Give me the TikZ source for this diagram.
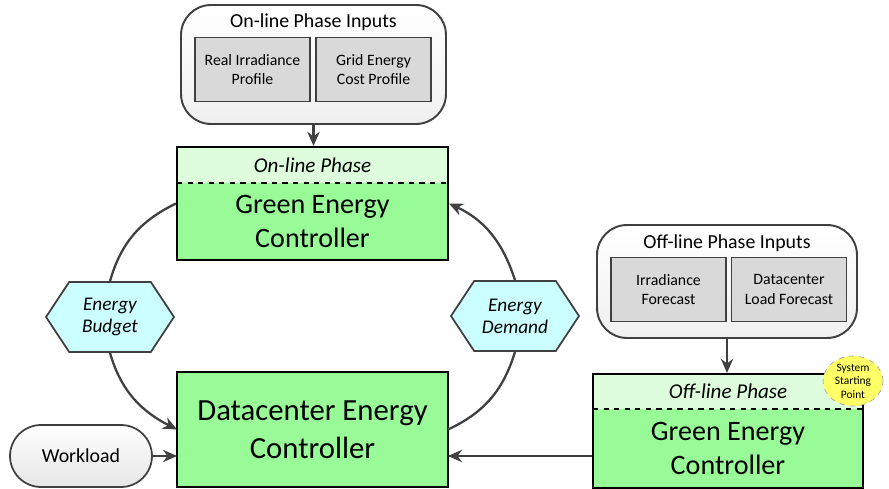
\documentclass[tikz,border=0pt]{standalone}
\usepackage{fontspec}
\setmainfont{Carlito}
\usetikzlibrary{shapes.symbols,shapes.geometric,fit,arrows.meta}
\definecolor{ctrlgreen}{HTML}{98FB98}
\definecolor{headgreen}{HTML}{DDFDDD}
\definecolor{flowcyan}{HTML}{CCFFFF}
\definecolor{boxgray}{HTML}{D9D9D9}
\definecolor{linegray}{HTML}{404040}
\definecolor{startyellow}{HTML}{FFFF66}
\begin{document}
\begin{tikzpicture}[x=0.02cm,y=0.02cm,
    inputs/.style={draw=linegray,line width=1.1pt,rounded corners=0.6cm,top color=white,bottom color=black!6},
    source/.style={draw=linegray,line width=0.9pt,fill=boxgray,align=center,inner sep=0pt,
      minimum width=2.3cm,minimum height=1.28cm,font=\fontsize{9}{11.3}\selectfont},
    phase/.style={fill=headgreen,outer sep=0pt,minimum height=0.72cm,font=\fontsize{12}{14}\selectfont\itshape},
    ctrl/.style={fill=ctrlgreen,outer sep=0pt,align=center,font=\fontsize{16}{19.8}\selectfont},
    frame/.style={draw=black,line width=1.2pt,inner sep=0pt},
    flow/.style={signal,signal to=east and west,signal pointer angle=113,draw=linegray,line width=1pt,
      fill=flowcyan,align=center,inner sep=0pt,minimum width=2.56cm,minimum height=1.4cm,
      font=\fontsize{11}{12.5}\selectfont\itshape},
    link/.style={draw=linegray,line width=1.3pt,-{Stealth[length=8pt,width=7pt]}}
  ]
  \useasboundingbox (0,0) rectangle (889,-489);
  % inputs of both phases
  \draw
    (313.5,-64.5) node[inputs,minimum width=5.3cm,minimum height=2.38cm] (oninputs){}
    (313.5,-22) node[font=\fontsize{11.3}{13}\selectfont] (ontitle){On-line Phase Inputs}
    (252.5,-69.5) node[source] (irradiance){Real Irradiance\\Profile}
    (373.5,-69.5) node[source] (gridcost){Grid Energy\\Cost Profile}
    (727,-281.5) node[inputs,minimum width=5.2cm,minimum height=2.26cm] (offinputs){}
    (727,-243) node[font=\fontsize{11.3}{13}\selectfont] (offtitle){Off-line Phase Inputs}
    (668.5,-289.5) node[source] (forecast){Irradiance\\Forecast}
    (789,-289.5) node[source] (loadforecast){Datacenter\\Load Forecast};
  % controllers
  \draw
    (312.5,-165) node[phase,minimum width=5.42cm] (onhead){On-line Phase}
    (312.5,-221.5) node[ctrl,minimum width=5.42cm,minimum height=1.54cm] (onbody){Green Energy\\Controller}
    (728,-391.5) node[phase,minimum width=5.4cm,minimum height=0.7cm] (offhead){Off-line Phase}
    (728,-448.5) node[ctrl,minimum width=5.4cm,minimum height=1.58cm] (offbody){Green Energy\\Controller}
    (312.5,-429.5) node[ctrl,frame,minimum width=5.42cm,minimum height=2.3cm,
      font=\fontsize{17.5}{21.5}\selectfont] (datacenter){Datacenter Energy\\Controller};
  \node[frame,fit=(onhead)(onbody)] (online){};
  \node[frame,fit=(offhead)(offbody)] (offline){};
  \draw[line width=1.1pt,dashed] (onhead.south west) -- (onhead.south east);
  \draw[line width=1.1pt,dashed] (offhead.south west) -- (offhead.south east);
  % flows and workload
  \draw
    (110,-317) node[flow] (budget){Energy\\Budget}
    (515,-316) node[flow] (demand){Energy\\Demand}
    (81,-456) node[draw=linegray,line width=1pt,rounded corners=0.62cm,top color=white,bottom color=black!10,
      minimum width=2.84cm,minimum height=1.24cm,font=\fontsize{11.3}{13}\selectfont] (workload){Workload}
    (853,-381) node[ellipse,draw=black!35,dashed,fill=startyellow,minimum width=1.2cm,minimum height=1cm,
      inner sep=0pt,align=center,font=\fontsize{6.5}{7.6}\selectfont] (start){System\\Starting\\Point};
  \begin{scope}[link]
    \draw (oninputs.south) -- (oninputs.south |- online.north);
    \draw (offinputs.south) -- (offinputs.south |- offline.north);
    \draw[-] (online.west) to[out=206,in=74] (budget.north);
    \draw (budget.south) to[out=286,in=153] (datacenter.west);
    \draw[-] (datacenter.east) to[out=25,in=253] (demand.south);
    \draw (demand.north) to[out=108,in=-25] (online.east);
    \draw (workload.east) -- (workload.east -| datacenter.west);
    \draw (workload.east -| offline.west) -- (workload.east -| datacenter.east);
  \end{scope}
\end{tikzpicture}
\end{document}
